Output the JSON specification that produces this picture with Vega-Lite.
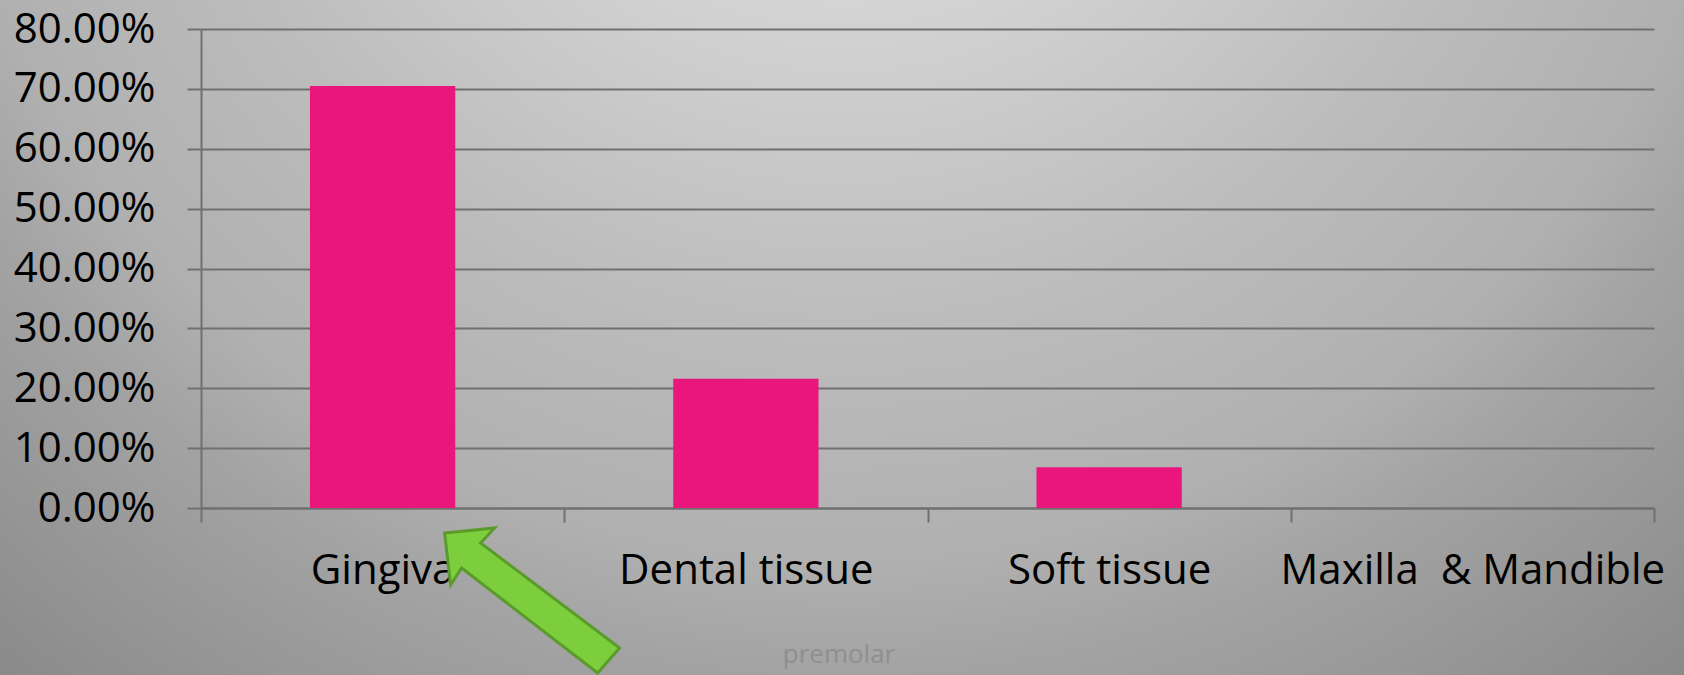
{
  "$schema": "https://vega.github.io/schema/vega-lite/v6.json",
  "width": 1684,
  "height": 675,
  "autosize": {"type": "none"},
  "padding": 0,
  "background": "#a2a2a2",
  "config": {
    "font": "Open Sans",
    "view": {
      "stroke": null,
      "fill": {
        "gradient": "radial",
        "x1": 0.5, "y1": 0.0917, "r1": 0,
        "x2": 0.5, "y2": 0.0917, "r2": 0.788,
        "stops": [
          {"offset": 0, "color": "#dedede"},
          {"offset": 0.264, "color": "#d4d4d4"},
          {"offset": 0.512, "color": "#bcbcbc"},
          {"offset": 0.687, "color": "#b0b0b0"},
          {"offset": 0.772, "color": "#a3a3a3"},
          {"offset": 1, "color": "#8a8a8a"}
        ]
      }
    }
  },
  "title": {
    "text": "premolar",
    "orient": "bottom",
    "anchor": "middle",
    "frame": "group",
    "baseline": "alphabetic",
    "offset": -16,
    "dx": -3,
    "font": "Open Sans",
    "fontSize": 26,
    "fontWeight": "normal",
    "color": "#8f8f8f"
  },
  "data": {
    "values": [
      {"site": "Gingiva", "share": 0.705},
      {"site": "Dental tissue", "share": 0.216},
      {"site": "Soft tissue", "share": 0.068},
      {"site": "Maxilla\u00a0 & Mandible", "share": 0}
    ]
  },
  "layer": [
    {
      "mark": {"type": "bar", "color": "#E9177C", "width": {"band": 0.4}},
      "encoding": {
        "x": {
          "field": "site",
          "type": "nominal",
          "sort": null,
          "scale": {"range": [201, 1654], "paddingInner": 0, "paddingOuter": 0},
          "axis": {
            "orient": "bottom",
            "offset": -167,
            "title": null,
            "grid": false,
            "tickBand": "extent",
            "domainColor": "#707070",
            "domainWidth": 2,
            "tickColor": "#707070",
            "tickWidth": 2,
            "tickSize": 14,
            "labelAngle": 0,
            "labelAlign": "center",
            "labelBaseline": "alphabetic",
            "labelPadding": 61,
            "labelFont": "Open Sans",
            "labelFontSize": 42,
            "labelColor": "#000000",
            "labelLimit": 0,
            "labelOverlap": false
          }
        },
        "y": {
          "field": "share",
          "type": "quantitative",
          "scale": {"domain": [0, 0.8], "range": [508, 29], "nice": false, "zero": true},
          "axis": {
            "orient": "left",
            "offset": -201,
            "title": null,
            "values": [0, 0.1, 0.2, 0.3, 0.4, 0.5, 0.6, 0.7, 0.8],
            "format": ".2%",
            "grid": true,
            "gridColor": "#707070",
            "gridWidth": 2,
            "gridOpacity": 1,
            "domainColor": "#707070",
            "domainWidth": 2,
            "tickColor": "#707070",
            "tickWidth": 2,
            "tickSize": 14,
            "labelPadding": 32,
            "labelFont": "Open Sans",
            "labelFontSize": 42,
            "labelColor": "#000000",
            "labelLimit": 0
          }
        }
      }
    },
    {
      "transform": [{"filter": "datum.site === 'Gingiva'"}],
      "mark": {
        "type": "point",
        "shape": "M-0.87,-0.67L-0.37,-0.72L-0.51,-0.57L0.88,0.48L0.66,0.73L-0.70,-0.32L-0.81,-0.15Z",
        "size": 40000,
        "filled": true,
        "fill": "#7dce3c",
        "stroke": "#5b9b2b",
        "strokeWidth": 3,
        "opacity": 1,
        "fillOpacity": 1,
        "strokeOpacity": 1,
        "xOffset": 149,
        "yOffset": 92
      },
      "encoding": {
        "x": {"field": "site", "type": "nominal", "sort": null},
        "y": {"datum": 0, "type": "quantitative"}
      }
    }
  ]
}
